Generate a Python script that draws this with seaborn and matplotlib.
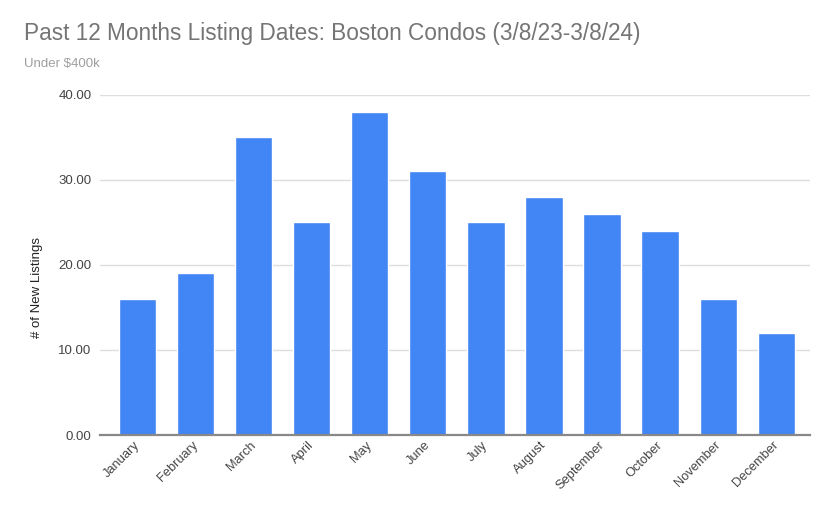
import matplotlib
matplotlib.use("Agg")
import matplotlib.pyplot as plt
import matplotlib.transforms as mtransforms
import seaborn as sns
import pandas as pd

months = ["January", "February", "March", "April", "May", "June", "July",
          "August", "September", "October", "November", "December"]
listings = [16, 19, 35, 25, 38, 31, 25, 28, 26, 24, 16, 12]
yticks = [0, 10, 20, 30, 40]

sns.set_theme(style="white")
plt.rcParams['font.family'] = ['Liberation Sans', 'DejaVu Sans']

df = pd.DataFrame({"month": months, "listings": listings})

fig = plt.figure(figsize=(8.35, 5.13), dpi=100)
ax = fig.add_axes([0.1198, 0.152, 0.850, 0.663])
sns.barplot(data=df, x="month", y="listings", color="#4285F4", saturation=1,
            width=0.64, ax=ax, zorder=3)

ax.set_ylim(0, 40)
ax.set_xlim(-0.65, 11.58)
ax.set_yticks(yticks)
ax.set_yticklabels([f"{v:.2f}" for v in yticks], color="#444444", fontsize=9.5)
ax.yaxis.grid(True, color="#dddddd", linewidth=1, zorder=0)
ax.tick_params(axis="y", length=0, pad=6)
ax.tick_params(axis="x", length=0, pad=3)
shift = mtransforms.ScaledTranslation(-4/100, 0, fig.dpi_scale_trans)
for lab in ax.get_xticklabels():
    lab.set_rotation(45)
    lab.set_ha("right")
    lab.set_rotation_mode("anchor")
    lab.set_color("#444444")
    lab.set_fontsize(9.3)
    lab.set_transform(lab.get_transform() + shift)

for s in ["top", "right", "left"]:
    ax.spines[s].set_visible(False)
ax.spines["bottom"].set_color("#888888")
ax.spines["bottom"].set_linewidth(1.6)
ax.spines["bottom"].set_zorder(4)

ax.set_xlabel("")
ax.set_ylabel("# of New Listings", fontsize=9.5, color="#222222")
ax.yaxis.set_label_coords(-0.08, 0.435)

fig.text(24/835, 1 - 40/513, "Past 12 Months Listing Dates: Boston Condos (3/8/23-3/8/24)",
         fontsize=16.3, color="#757575", va="baseline", ha="left")
fig.text(24/835, 1 - 67/513, "Under $400k", fontsize=9.5, color="#9e9e9e",
         va="baseline", ha="left")

fig.savefig("out.png", dpi=100)
